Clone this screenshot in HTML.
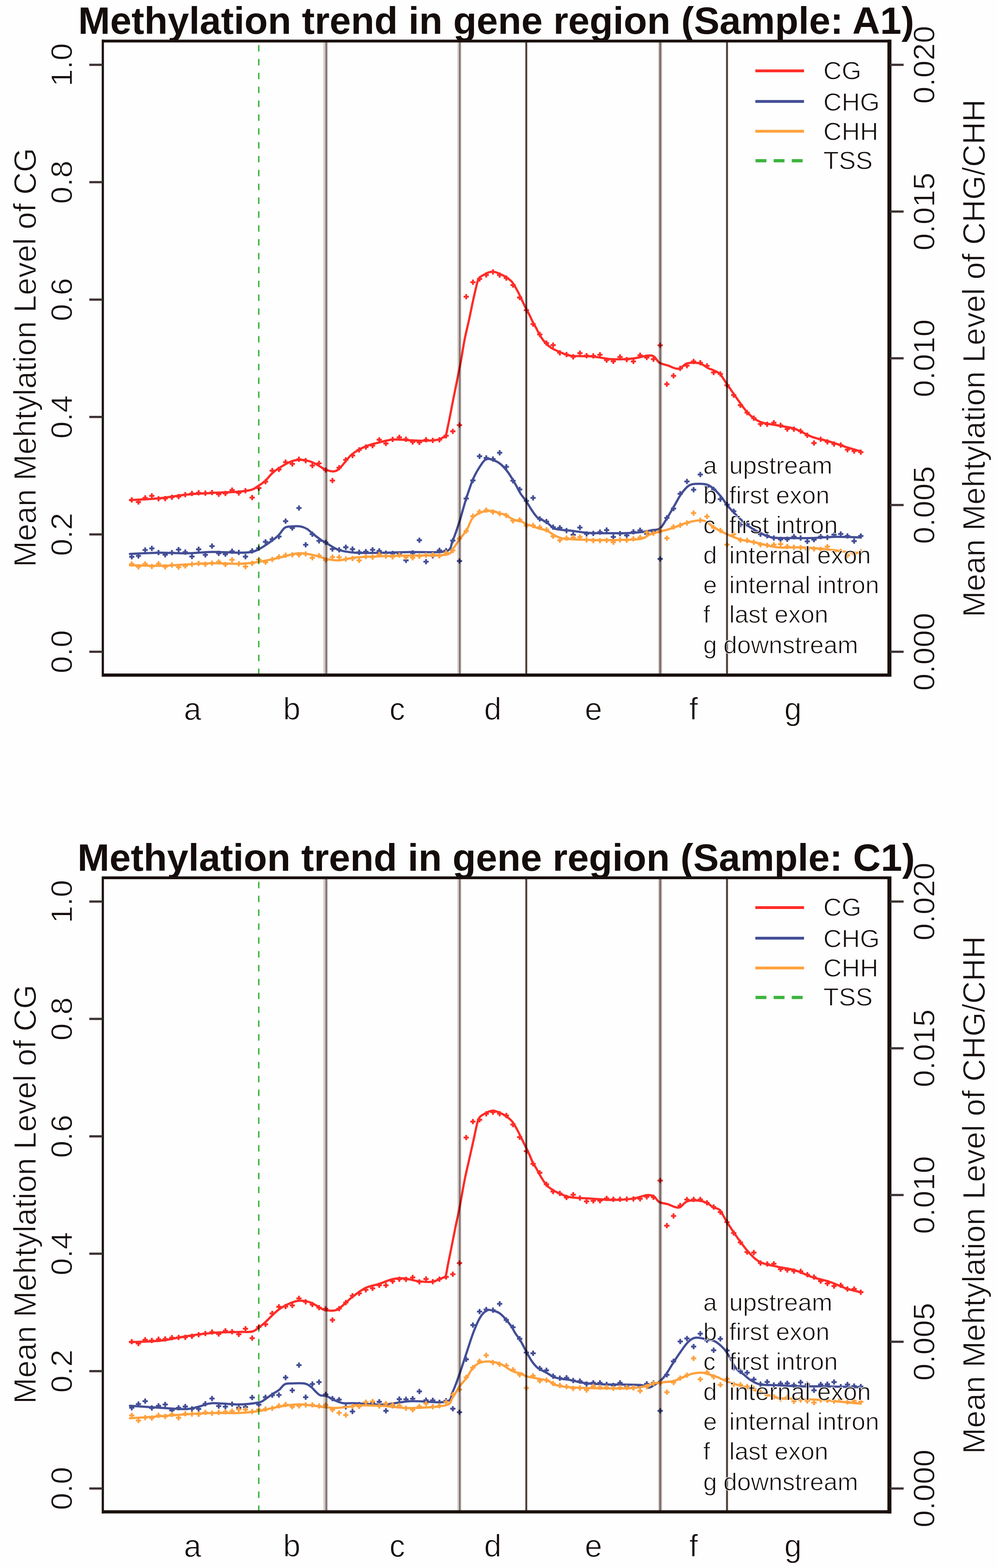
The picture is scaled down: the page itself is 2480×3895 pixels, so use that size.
<!DOCTYPE html>
<html><head><meta charset="utf-8"><title>Methylation trend in gene region</title>
<style>html,body{margin:0;padding:0;background:#fefefe;}svg{display:block;}.r{stroke:#fefefe;stroke-width:1.3px;paint-order:fill stroke;}</style>
</head><body>
<svg width="2480" height="3895" viewBox="0 0 2480 3895">
<rect width="2480" height="3895" fill="#fefefe"/>
<text transform="translate(1233,84.0)" font-family="Liberation Sans, sans-serif" font-weight="bold" font-size="95.3" text-anchor="middle" fill="#140d0b">Methylation trend in gene region (Sample: A1)</text>
<line x1="808.5" y1="104.0" x2="808.5" y2="1674.0" stroke="#d6cdcb" stroke-width="10"/>
<line x1="811.0" y1="104.0" x2="811.0" y2="1674.0" stroke="#857876" stroke-width="5"/>
<line x1="1141.5" y1="104.0" x2="1141.5" y2="1674.0" stroke="#d6cdcb" stroke-width="10"/>
<line x1="1142.5" y1="104.0" x2="1142.5" y2="1674.0" stroke="#7d706d" stroke-width="4"/>
<line x1="1307.8" y1="104.0" x2="1307.8" y2="1674.0" stroke="#b9aeab" stroke-width="6"/>
<line x1="1307.8" y1="104.0" x2="1307.8" y2="1674.0" stroke="#3d302c" stroke-width="3.5"/>
<line x1="1640.5" y1="104.0" x2="1640.5" y2="1674.0" stroke="#d6cdcb" stroke-width="10"/>
<line x1="1640.7" y1="104.0" x2="1640.7" y2="1674.0" stroke="#7d706d" stroke-width="5"/>
<line x1="1806.6" y1="104.0" x2="1806.6" y2="1674.0" stroke="#b9aeab" stroke-width="6"/>
<line x1="1806.6" y1="104.0" x2="1806.6" y2="1674.0" stroke="#3d302c" stroke-width="3.5"/>
<line x1="643" y1="112.0" x2="643" y2="1676.0" stroke="#3cb43c" stroke-width="3.6" stroke-dasharray="16 18.42"/>
<g style="mix-blend-mode:multiply">
<path d="M322.8 1242.4 C335.3 1241.6 374.4 1239.8 397.8 1237.5 C421.2 1235.2 441.3 1230.9 463.0 1228.7 C484.7 1226.5 506.2 1225.8 528.0 1224.5 C549.8 1223.2 577.2 1222.6 593.5 1221.2 C609.8 1219.8 617.8 1218.8 626.0 1216.3 C634.2 1213.8 637.0 1210.0 642.5 1206.5 C648.0 1203.0 653.4 1199.9 658.8 1195.0 C664.2 1190.1 669.6 1182.2 675.0 1177.0 C680.4 1171.8 683.2 1169.2 691.4 1164.0 C699.6 1158.8 714.8 1149.6 724.0 1146.0 C733.2 1142.4 738.6 1142.1 746.8 1142.3 C755.0 1142.5 764.3 1143.9 773.0 1147.0 C781.7 1150.1 792.7 1157.5 799.0 1161.0 C805.3 1164.5 804.4 1166.8 811.0 1167.9 C817.6 1169.1 828.3 1174.2 838.6 1167.9 C848.9 1161.6 861.5 1139.8 873.0 1130.0 C884.5 1120.2 896.0 1114.5 907.5 1109.3 C919.0 1104.1 930.5 1101.9 942.0 1099.0 C953.5 1096.1 963.2 1092.9 976.4 1092.0 C989.6 1091.1 1008.0 1093.3 1021.2 1093.8 C1034.4 1094.3 1044.2 1095.1 1055.7 1094.8 C1067.2 1094.5 1082.6 1093.3 1090.0 1092.0 C1097.4 1090.7 1097.1 1088.5 1100.0 1087.0 C1102.9 1085.5 1105.2 1087.8 1107.4 1083.0 C1109.6 1078.2 1111.1 1067.7 1113.2 1058.0 C1115.3 1048.3 1117.7 1036.2 1119.9 1025.0 C1122.1 1013.8 1124.3 1002.2 1126.5 991.0 C1128.7 979.8 1131.0 969.0 1133.2 958.0 C1135.4 947.0 1137.7 935.8 1139.8 925.0 C1141.9 914.2 1143.5 906.8 1146.0 893.0 C1148.5 879.2 1151.6 858.2 1154.8 842.0 C1158.0 825.8 1161.7 812.0 1165.2 796.0 C1168.7 780.0 1172.2 761.7 1175.7 746.0 C1179.2 730.3 1183.4 711.3 1186.0 702.0 C1188.6 692.7 1189.0 693.0 1191.3 690.0 C1193.6 687.0 1196.4 686.2 1200.0 684.0 C1203.6 681.8 1208.7 678.5 1213.0 677.0 C1217.3 675.5 1221.7 674.7 1226.0 675.0 C1230.3 675.3 1234.2 677.0 1239.0 679.0 C1243.8 681.0 1249.5 683.5 1255.0 687.0 C1260.5 690.5 1267.0 694.3 1272.0 700.0 C1277.0 705.7 1281.3 714.5 1285.0 721.0 C1288.7 727.5 1290.8 732.3 1294.0 739.0 C1297.2 745.7 1300.9 754.0 1304.4 761.0 C1307.9 768.0 1311.7 774.5 1315.0 781.0 C1318.3 787.5 1321.0 794.2 1324.0 800.0 C1327.0 805.8 1329.8 810.0 1333.0 816.0 C1336.2 822.0 1339.6 829.8 1343.5 836.0 C1347.4 842.2 1352.2 848.3 1356.6 853.0 C1360.9 857.7 1364.2 860.6 1369.6 864.0 C1375.0 867.4 1381.0 870.2 1389.0 873.5 C1397.0 876.8 1404.4 881.6 1417.8 883.6 C1431.2 885.6 1452.3 883.9 1469.5 885.3 C1486.7 886.7 1504.0 891.3 1521.2 892.2 C1538.4 893.1 1558.5 891.9 1572.9 890.5 C1587.3 889.1 1598.8 884.5 1607.4 883.6 C1616.0 882.7 1619.4 882.4 1624.6 885.3 C1629.8 888.2 1632.7 897.1 1638.4 900.8 C1644.1 904.5 1651.0 905.1 1659.0 907.7 C1667.0 910.3 1678.5 917.1 1686.6 916.3 C1694.6 915.4 1698.7 904.9 1707.3 902.6 C1715.9 900.3 1729.5 900.6 1738.3 902.6 C1747.1 904.6 1754.2 911.7 1760.0 914.6 C1765.8 917.5 1768.0 917.4 1772.8 919.8 C1777.6 922.2 1783.2 923.3 1788.7 928.9 C1794.2 934.5 1798.8 943.0 1806.0 953.3 C1813.2 963.6 1822.7 978.1 1831.8 990.6 C1840.9 1003.1 1850.9 1018.4 1860.5 1028.0 C1870.1 1037.6 1877.2 1043.2 1889.2 1048.0 C1901.2 1052.8 1917.9 1053.8 1932.2 1056.7 C1946.5 1059.6 1961.0 1060.5 1975.3 1065.3 C1989.6 1070.1 2003.9 1080.2 2018.3 1085.4 C2032.7 1090.7 2047.1 1092.5 2061.4 1096.8 C2075.8 1101.1 2091.5 1107.1 2104.4 1111.2 C2117.3 1115.3 2133.2 1119.5 2138.9 1121.2" stroke="#ff2b27" stroke-width="5.5" fill="none" stroke-linejoin="round" stroke-linecap="round"/>
<path d="M320.9 1241.8h13M327.4 1235.3v13M337.5 1247.1h13M344.0 1240.6v13M354.2 1236.8h13M360.7 1230.3v13M370.8 1231.7h13M377.3 1225.2v13M387.4 1238.9h13M393.9 1232.4v13M404.0 1238.4h13M410.5 1231.9v13M420.6 1235.3h13M427.1 1228.8v13M437.3 1233.6h13M443.8 1227.1v13M453.9 1228.8h13M460.4 1222.3v13M470.5 1225.7h13M477.0 1219.2v13M487.1 1224.0h13M493.6 1217.5v13M503.8 1225.1h13M510.3 1218.6v13M520.4 1223.4h13M526.9 1216.9v13M537.0 1227.8h13M543.5 1221.3v13M553.6 1225.7h13M560.1 1219.2v13M570.2 1217.4h13M576.7 1210.9v13M586.9 1224.4h13M593.4 1217.9v13M603.5 1219.0h13M610.0 1212.5v13M620.1 1236.0h13M626.6 1229.5v13M636.7 1212.4h13M643.2 1205.9v13M653.3 1196.5h13M659.8 1190.0v13M670.0 1169.1h13M676.5 1162.6v13M686.6 1166.1h13M693.1 1159.6v13M703.2 1148.0h13M709.7 1141.5v13M719.8 1152.4h13M726.3 1145.9v13M736.4 1140.7h13M742.9 1134.2v13M753.1 1144.3h13M759.6 1137.8v13M769.7 1156.5h13M776.2 1150.0v13M786.3 1151.0h13M792.8 1144.5v13M802.9 1167.6h13M809.4 1161.1v13M819.6 1193.7h13M826.1 1187.2v13M836.2 1161.8h13M842.7 1155.3v13M852.8 1142.3h13M859.3 1135.8v13M869.4 1131.4h13M875.9 1124.9v13M886.0 1117.5h13M892.5 1111.0v13M902.7 1110.6h13M909.2 1104.1v13M919.3 1106.9h13M925.8 1100.4v13M935.9 1092.4h13M942.4 1085.9v13M952.5 1101.6h13M959.0 1095.1v13M969.1 1091.6h13M975.6 1085.1v13M985.8 1086.4h13M992.3 1079.9v13M1002.4 1091.1h13M1008.9 1084.6v13M1019.0 1097.9h13M1025.5 1091.4v13M1035.6 1098.9h13M1042.1 1092.4v13M1052.2 1092.2h13M1058.7 1085.7v13M1068.9 1094.1h13M1075.4 1087.6v13M1085.5 1092.4h13M1092.0 1085.9v13M1102.1 1082.4h13M1108.6 1075.9v13M1118.7 1071.4h13M1125.2 1064.9v13M1135.3 1056.0h13M1141.8 1049.5v13M1152.0 737.0h13M1158.5 730.5v13M1168.6 701.0h13M1175.1 694.5v13M1185.2 692.9h13M1191.7 686.4v13M1201.8 682.9h13M1208.3 676.4v13M1218.5 675.4h13M1225.0 668.9v13M1235.1 683.2h13M1241.6 676.7v13M1251.7 690.8h13M1258.2 684.3v13M1268.3 708.1h13M1274.8 701.6v13M1284.9 739.1h13M1291.4 732.6v13M1301.6 770.5h13M1308.1 764.0v13M1318.2 805.0h13M1324.7 798.5v13M1334.8 830.7h13M1341.3 824.2v13M1351.4 852.3h13M1357.9 845.8v13M1368.0 857.3h13M1374.5 850.8v13M1384.7 876.4h13M1391.2 869.9v13M1401.3 880.7h13M1407.8 874.2v13M1417.9 886.5h13M1424.4 880.0v13M1434.5 877.2h13M1441.0 870.7v13M1451.1 883.4h13M1457.6 876.9v13M1467.8 884.1h13M1474.3 877.6v13M1484.4 881.3h13M1490.9 874.8v13M1501.0 894.5h13M1507.5 888.0v13M1517.6 897.5h13M1524.1 891.0v13M1534.3 886.8h13M1540.8 880.3v13M1550.9 893.3h13M1557.4 886.8v13M1567.5 897.8h13M1574.0 891.3v13M1584.1 882.5h13M1590.6 876.0v13M1600.7 888.1h13M1607.2 881.6v13M1617.4 892.2h13M1623.9 885.7v13M1634.0 857.8h13M1640.5 851.3v13M1650.6 954.3h13M1657.1 947.8v13M1667.2 933.6h13M1673.7 927.1v13M1683.8 915.1h13M1690.3 908.6v13M1700.5 908.2h13M1707.0 901.7v13M1717.1 897.9h13M1723.6 891.4v13M1733.7 901.1h13M1740.2 894.6v13M1750.3 908.8h13M1756.8 902.3v13M1766.9 925.2h13M1773.4 918.7v13M1783.6 929.0h13M1790.1 922.5v13M1800.2 957.1h13M1806.7 950.6v13M1816.8 981.4h13M1823.3 974.9v13M1833.4 1006.4h13M1839.9 999.9v13M1850.1 1025.0h13M1856.6 1018.5v13M1866.7 1038.7h13M1873.2 1032.2v13M1883.3 1053.3h13M1889.8 1046.8v13M1899.9 1053.9h13M1906.4 1047.4v13M1916.5 1050.1h13M1923.0 1043.6v13M1933.2 1056.5h13M1939.7 1050.0v13M1949.8 1065.7h13M1956.3 1059.2v13M1966.4 1065.9h13M1972.9 1059.4v13M1983.0 1071.0h13M1989.5 1064.5v13M1999.6 1081.2h13M2006.1 1074.7v13M2016.3 1100.6h13M2022.8 1094.1v13M2032.9 1091.2h13M2039.4 1084.7v13M2049.5 1097.8h13M2056.0 1091.3v13M2066.1 1102.9h13M2072.6 1096.4v13M2082.7 1105.5h13M2089.2 1099.0v13M2099.4 1117.0h13M2105.9 1110.5v13M2116.0 1120.4h13M2122.5 1113.9v13M2132.6 1123.3h13M2139.1 1116.8v13" stroke="#ff2b27" stroke-width="4.6" fill="none"/>
<path d="M322.8 1376.0 C335.3 1375.5 374.4 1373.2 397.8 1373.0 C421.2 1372.8 441.3 1374.8 463.0 1374.5 C484.7 1374.2 506.2 1371.2 528.0 1371.0 C549.8 1370.8 577.2 1373.0 593.5 1373.0 C609.8 1373.0 617.8 1372.4 626.0 1371.0 C634.2 1369.6 637.0 1367.4 642.5 1364.7 C648.0 1362.0 653.4 1358.5 658.8 1355.0 C664.2 1351.5 669.6 1347.6 675.0 1343.5 C680.4 1339.4 685.9 1335.9 691.4 1330.5 C696.9 1325.1 702.3 1314.8 707.7 1311.0 C713.1 1307.2 717.5 1308.2 724.0 1307.7 C730.5 1307.2 740.3 1306.7 746.8 1307.7 C753.3 1308.8 757.5 1310.6 763.0 1314.0 C768.5 1317.4 774.0 1323.3 780.0 1328.0 C786.0 1332.7 793.8 1338.5 799.0 1342.0 C804.2 1345.5 803.8 1345.0 811.0 1349.0 C818.2 1353.0 829.9 1362.0 842.0 1366.0 C854.1 1370.0 865.0 1371.8 883.4 1373.0 C901.8 1374.2 929.3 1373.3 952.3 1373.0 C975.3 1372.7 995.4 1371.8 1021.2 1371.2 C1047.1 1370.6 1090.2 1374.1 1107.4 1369.5 C1124.6 1364.9 1118.9 1355.9 1124.6 1343.6 C1130.3 1331.2 1136.1 1313.2 1141.8 1295.4 C1147.5 1277.6 1153.2 1254.6 1159.0 1236.8 C1164.8 1219.0 1170.5 1201.8 1176.3 1188.6 C1182.0 1175.4 1188.2 1165.6 1193.5 1157.6 C1198.8 1149.6 1202.6 1143.0 1208.0 1140.5 C1213.4 1138.0 1219.7 1140.8 1225.7 1142.9 C1231.7 1145.0 1237.9 1148.0 1244.0 1153.0 C1250.1 1158.0 1256.1 1164.8 1262.2 1173.0 C1268.3 1181.2 1275.2 1193.4 1280.5 1202.3 C1285.8 1211.2 1289.2 1219.3 1293.7 1226.4 C1298.2 1233.5 1302.9 1238.0 1307.4 1244.7 C1312.0 1251.4 1316.4 1259.9 1321.0 1266.6 C1325.6 1273.3 1330.2 1280.6 1334.8 1284.9 C1339.4 1289.2 1343.9 1289.6 1348.5 1292.2 C1353.1 1294.8 1357.6 1297.1 1362.2 1300.4 C1366.8 1303.8 1370.6 1309.7 1375.9 1312.3 C1381.2 1314.9 1387.4 1315.0 1394.2 1316.0 C1401.0 1317.0 1406.0 1316.8 1417.0 1318.0 C1428.0 1319.2 1442.7 1322.4 1460.0 1323.5 C1477.3 1324.6 1503.7 1324.4 1521.0 1324.5 C1538.3 1324.6 1550.8 1324.6 1564.0 1324.0 C1577.2 1323.4 1590.7 1322.2 1600.0 1321.0 C1609.3 1319.8 1613.3 1318.4 1620.0 1317.0 C1626.7 1315.6 1633.9 1317.3 1640.0 1312.6 C1646.1 1307.9 1650.7 1297.9 1656.5 1288.8 C1662.3 1279.7 1668.7 1268.1 1674.8 1257.8 C1680.9 1247.5 1686.9 1235.2 1693.0 1226.7 C1699.1 1218.2 1705.2 1210.7 1711.3 1206.6 C1717.4 1202.5 1722.0 1202.5 1729.6 1202.0 C1737.2 1201.5 1749.4 1201.6 1757.0 1203.9 C1764.6 1206.2 1769.2 1210.5 1775.3 1215.8 C1781.4 1221.1 1788.3 1229.4 1793.5 1235.8 C1798.7 1242.2 1801.7 1248.2 1806.3 1254.0 C1810.9 1259.8 1815.5 1264.7 1821.0 1270.5 C1826.5 1276.3 1833.1 1283.0 1839.2 1288.8 C1845.3 1294.6 1849.8 1299.8 1857.4 1305.3 C1865.0 1310.8 1874.7 1316.8 1884.8 1321.7 C1894.9 1326.7 1905.2 1332.5 1917.9 1335.0 C1930.6 1337.5 1944.3 1336.2 1961.0 1336.5 C1977.7 1336.8 1999.2 1337.0 2018.3 1336.5 C2037.4 1336.0 2055.6 1333.8 2075.7 1333.6 C2095.8 1333.3 2128.4 1334.8 2138.9 1335.0" stroke="#434e96" stroke-width="5.5" fill="none" stroke-linejoin="round" stroke-linecap="round"/>
<path d="M320.9 1383.1h13M327.4 1376.6v13M337.5 1381.0h13M344.0 1374.5v13M354.2 1366.3h13M360.7 1359.8v13M370.8 1362.2h13M377.3 1355.7v13M387.4 1372.5h13M393.9 1366.0v13M404.0 1377.9h13M410.5 1371.4v13M420.6 1372.8h13M427.1 1366.3v13M437.3 1365.3h13M443.8 1358.8v13M453.9 1371.5h13M460.4 1365.0v13M470.5 1382.4h13M477.0 1375.9v13M487.1 1364.6h13M493.6 1358.1v13M503.8 1378.2h13M510.3 1371.7v13M520.4 1356.6h13M526.9 1350.1v13M537.0 1374.4h13M543.5 1367.9v13M553.6 1376.6h13M560.1 1370.1v13M570.2 1369.2h13M576.7 1362.7v13M586.9 1372.3h13M593.4 1365.8v13M603.5 1382.8h13M610.0 1376.3v13M620.1 1368.5h13M626.6 1362.0v13M636.7 1361.8h13M643.2 1355.3v13M653.3 1345.9h13M659.8 1339.4v13M670.0 1339.5h13M676.5 1333.0v13M686.6 1332.9h13M693.1 1326.4v13M703.2 1294.6h13M709.7 1288.1v13M719.8 1311.6h13M726.3 1305.1v13M736.4 1262.0h13M742.9 1255.5v13M753.1 1353.3h13M759.6 1346.8v13M769.7 1326.9h13M776.2 1320.4v13M786.3 1343.5h13M792.8 1337.0v13M802.9 1347.2h13M809.4 1340.7v13M819.6 1363.7h13M826.1 1357.2v13M836.2 1365.7h13M842.7 1359.2v13M852.8 1359.4h13M859.3 1352.9v13M869.4 1364.1h13M875.9 1357.6v13M886.0 1371.9h13M892.5 1365.4v13M902.7 1370.3h13M909.2 1363.8v13M919.3 1365.8h13M925.8 1359.3v13M935.9 1368.5h13M942.4 1362.0v13M952.5 1373.9h13M959.0 1367.4v13M969.1 1374.8h13M975.6 1368.3v13M985.8 1377.0h13M992.3 1370.5v13M1002.4 1391.9h13M1008.9 1385.4v13M1019.0 1373.4h13M1025.5 1366.9v13M1035.6 1341.9h13M1042.1 1335.4v13M1052.2 1395.3h13M1058.7 1388.8v13M1068.9 1380.7h13M1075.4 1374.2v13M1085.5 1367.0h13M1092.0 1360.5v13M1102.1 1367.7h13M1108.6 1361.2v13M1118.7 1342.9h13M1125.2 1336.4v13M1135.3 1393.6h13M1141.8 1387.1v13M1152.0 1238.3h13M1158.5 1231.8v13M1168.6 1193.4h13M1175.1 1186.9v13M1185.2 1133.4h13M1191.7 1126.9v13M1201.8 1137.6h13M1208.3 1131.1v13M1218.5 1140.2h13M1225.0 1133.7v13M1235.1 1124.8h13M1241.6 1118.3v13M1251.7 1159.5h13M1258.2 1153.0v13M1268.3 1194.3h13M1274.8 1187.8v13M1284.9 1215.8h13M1291.4 1209.3v13M1301.6 1244.3h13M1308.1 1237.8v13M1318.2 1236.8h13M1324.7 1230.3v13M1334.8 1289.0h13M1341.3 1282.5v13M1351.4 1295.6h13M1357.9 1289.1v13M1368.0 1309.6h13M1374.5 1303.1v13M1384.7 1311.0h13M1391.2 1304.5v13M1401.3 1317.9h13M1407.8 1311.4v13M1417.9 1328.4h13M1424.4 1321.9v13M1434.5 1310.5h13M1441.0 1304.0v13M1451.1 1326.2h13M1457.6 1319.7v13M1467.8 1325.1h13M1474.3 1318.6v13M1484.4 1321.8h13M1490.9 1315.3v13M1501.0 1316.8h13M1507.5 1310.3v13M1517.6 1333.8h13M1524.1 1327.3v13M1534.3 1325.4h13M1540.8 1318.9v13M1550.9 1330.0h13M1557.4 1323.5v13M1567.5 1321.0h13M1574.0 1314.5v13M1584.1 1317.3h13M1590.6 1310.8v13M1600.7 1325.9h13M1607.2 1319.4v13M1617.4 1320.5h13M1623.9 1314.0v13M1634.0 1388.4h13M1640.5 1381.9v13M1650.6 1286.5h13M1657.1 1280.0v13M1667.2 1263.3h13M1673.7 1256.8v13M1683.8 1226.6h13M1690.3 1220.1v13M1700.5 1196.0h13M1707.0 1189.5v13M1717.1 1216.5h13M1723.6 1210.0v13M1733.7 1178.8h13M1740.2 1172.3v13M1750.3 1209.0h13M1756.8 1202.5v13M1766.9 1215.7h13M1773.4 1209.2v13M1783.6 1240.0h13M1790.1 1233.5v13M1800.2 1253.6h13M1806.7 1247.1v13M1816.8 1270.0h13M1823.3 1263.5v13M1833.4 1303.2h13M1839.9 1296.7v13M1850.1 1301.7h13M1856.6 1295.2v13M1866.7 1318.3h13M1873.2 1311.8v13M1883.3 1327.0h13M1889.8 1320.5v13M1899.9 1331.1h13M1906.4 1324.6v13M1916.5 1336.5h13M1923.0 1330.0v13M1933.2 1339.9h13M1939.7 1333.4v13M1949.8 1339.6h13M1956.3 1333.1v13M1966.4 1333.1h13M1972.9 1326.6v13M1983.0 1336.6h13M1989.5 1330.1v13M1999.6 1344.7h13M2006.1 1338.2v13M2016.3 1340.6h13M2022.8 1334.1v13M2032.9 1333.0h13M2039.4 1326.5v13M2049.5 1335.0h13M2056.0 1328.5v13M2066.1 1328.0h13M2072.6 1321.5v13M2082.7 1326.4h13M2089.2 1319.9v13M2099.4 1331.2h13M2105.9 1324.7v13M2116.0 1344.1h13M2122.5 1337.6v13M2132.6 1331.4h13M2139.1 1324.9v13" stroke="#434e96" stroke-width="4.6" fill="none"/>
<path d="M322.8 1403.9 C335.3 1404.2 374.4 1405.8 397.8 1405.5 C421.2 1405.2 441.3 1403.3 463.0 1402.2 C484.7 1401.1 506.2 1399.3 528.0 1399.0 C549.8 1398.7 574.4 1401.1 593.5 1400.6 C612.6 1400.0 626.2 1398.1 642.5 1395.7 C658.8 1393.3 675.1 1389.5 691.4 1386.0 C707.6 1382.5 726.4 1375.9 740.0 1374.5 C753.6 1373.1 763.2 1376.2 773.0 1377.8 C782.8 1379.4 792.7 1382.5 799.0 1384.3 C805.3 1386.1 803.8 1387.1 811.0 1388.4 C818.2 1389.7 829.9 1392.5 842.0 1391.9 C854.1 1391.3 865.0 1386.7 883.4 1385.0 C901.8 1383.3 929.3 1382.5 952.3 1381.6 C975.3 1380.7 995.4 1380.4 1021.2 1379.8 C1047.1 1379.2 1090.2 1380.6 1107.4 1378.0 C1124.6 1375.4 1118.9 1370.6 1124.6 1364.3 C1130.3 1358.0 1135.9 1348.3 1141.8 1340.2 C1147.7 1332.1 1154.7 1324.6 1160.0 1315.8 C1165.3 1307.0 1169.1 1294.0 1173.7 1287.5 C1178.3 1281.0 1182.9 1279.2 1187.4 1276.5 C1192.0 1273.8 1196.4 1272.2 1201.0 1271.0 C1205.6 1269.8 1210.2 1269.4 1214.8 1269.2 C1219.4 1269.0 1223.9 1269.0 1228.5 1270.1 C1233.1 1271.2 1237.6 1274.2 1242.2 1275.6 C1246.8 1277.0 1251.3 1276.4 1255.9 1278.4 C1260.5 1280.4 1265.0 1285.1 1269.6 1287.5 C1274.2 1289.9 1278.7 1291.6 1283.3 1293.0 C1287.9 1294.4 1293.0 1294.5 1297.0 1296.0 C1301.0 1297.5 1303.4 1300.5 1307.4 1302.2 C1311.4 1303.9 1316.4 1304.5 1321.0 1306.0 C1325.6 1307.5 1330.2 1309.9 1334.8 1311.4 C1339.4 1312.9 1343.9 1313.6 1348.5 1315.0 C1353.1 1316.4 1357.6 1317.3 1362.2 1319.6 C1366.8 1321.9 1371.3 1326.1 1375.9 1328.7 C1380.5 1331.3 1384.2 1333.3 1389.6 1335.0 C1394.9 1336.7 1396.3 1337.8 1408.0 1338.8 C1419.7 1339.8 1441.3 1340.5 1460.0 1341.0 C1478.7 1341.5 1498.3 1341.8 1520.0 1341.5 C1541.7 1341.2 1574.7 1341.1 1590.0 1339.0 C1605.3 1336.9 1606.2 1331.5 1612.0 1329.0 C1617.8 1326.5 1620.3 1325.4 1625.0 1324.0 C1629.7 1322.6 1631.7 1323.0 1640.0 1320.8 C1648.3 1318.6 1664.4 1314.2 1674.8 1310.7 C1685.2 1307.2 1693.1 1302.7 1702.2 1299.8 C1711.3 1296.9 1721.4 1294.3 1729.6 1293.4 C1737.8 1292.5 1743.9 1291.4 1751.5 1294.3 C1759.1 1297.2 1766.8 1305.5 1775.3 1310.7 C1783.8 1315.9 1791.9 1320.4 1802.6 1325.3 C1813.2 1330.2 1827.0 1336.3 1839.2 1340.0 C1851.4 1343.7 1860.2 1344.0 1875.7 1347.3 C1891.2 1350.5 1913.2 1357.5 1932.2 1359.5 C1951.2 1361.5 1970.5 1358.8 1989.6 1359.5 C2008.7 1360.2 2027.9 1361.9 2047.0 1363.8 C2066.1 1365.7 2089.1 1369.3 2104.4 1371.0 C2119.7 1372.7 2133.2 1373.3 2138.9 1373.8" stroke="#ffa23e" stroke-width="5.5" fill="none" stroke-linejoin="round" stroke-linecap="round"/>
<path d="M320.9 1401.0h13M327.4 1394.5v13M337.5 1407.9h13M344.0 1401.4v13M354.2 1400.9h13M360.7 1394.4v13M370.8 1407.2h13M377.3 1400.7v13M387.4 1400.5h13M393.9 1394.0v13M404.0 1408.0h13M410.5 1401.5v13M420.6 1403.7h13M427.1 1397.2v13M437.3 1408.8h13M443.8 1402.3v13M453.9 1405.7h13M460.4 1399.2v13M470.5 1401.7h13M477.0 1395.2v13M487.1 1399.6h13M493.6 1393.1v13M503.8 1401.8h13M510.3 1395.3v13M520.4 1398.9h13M526.9 1392.4v13M537.0 1395.9h13M543.5 1389.4v13M553.6 1402.2h13M560.1 1395.7v13M570.2 1390.5h13M576.7 1384.0v13M586.9 1400.4h13M593.4 1393.9v13M603.5 1407.4h13M610.0 1400.9v13M620.1 1399.4h13M626.6 1392.9v13M636.7 1390.0h13M643.2 1383.5v13M653.3 1396.6h13M659.8 1390.1v13M670.0 1389.7h13M676.5 1383.2v13M686.6 1383.3h13M693.1 1376.8v13M703.2 1379.3h13M709.7 1372.8v13M719.8 1378.3h13M726.3 1371.8v13M736.4 1378.2h13M742.9 1371.7v13M753.1 1376.1h13M759.6 1369.6v13M769.7 1385.6h13M776.2 1379.1v13M786.3 1380.3h13M792.8 1373.8v13M802.9 1391.3h13M809.4 1384.8v13M819.6 1384.0h13M826.1 1377.5v13M836.2 1384.2h13M842.7 1377.7v13M852.8 1388.7h13M859.3 1382.2v13M869.4 1387.4h13M875.9 1380.9v13M886.0 1392.0h13M892.5 1385.5v13M902.7 1382.5h13M909.2 1376.0v13M919.3 1384.1h13M925.8 1377.6v13M935.9 1377.4h13M942.4 1370.9v13M952.5 1381.6h13M959.0 1375.1v13M969.1 1383.3h13M975.6 1376.8v13M985.8 1379.1h13M992.3 1372.6v13M1002.4 1384.3h13M1008.9 1377.8v13M1019.0 1385.4h13M1025.5 1378.9v13M1035.6 1381.9h13M1042.1 1375.4v13M1052.2 1378.9h13M1058.7 1372.4v13M1068.9 1378.0h13M1075.4 1371.5v13M1085.5 1380.9h13M1092.0 1374.4v13M1102.1 1373.1h13M1108.6 1366.6v13M1118.7 1367.4h13M1125.2 1360.9v13M1135.3 1337.9h13M1141.8 1331.4v13M1152.0 1319.1h13M1158.5 1312.6v13M1168.6 1282.2h13M1175.1 1275.7v13M1185.2 1271.2h13M1191.7 1264.7v13M1201.8 1267.0h13M1208.3 1260.5v13M1218.5 1272.1h13M1225.0 1265.6v13M1235.1 1275.7h13M1241.6 1269.2v13M1251.7 1280.4h13M1258.2 1273.9v13M1268.3 1293.7h13M1274.8 1287.2v13M1284.9 1291.4h13M1291.4 1284.9v13M1301.6 1306.0h13M1308.1 1299.5v13M1318.2 1305.3h13M1324.7 1298.8v13M1334.8 1309.7h13M1341.3 1303.2v13M1351.4 1316.1h13M1357.9 1309.6v13M1368.0 1332.1h13M1374.5 1325.6v13M1384.7 1342.0h13M1391.2 1335.5v13M1401.3 1336.7h13M1407.8 1330.2v13M1417.9 1335.4h13M1424.4 1328.9v13M1434.5 1334.1h13M1441.0 1327.6v13M1451.1 1341.2h13M1457.6 1334.7v13M1467.8 1342.9h13M1474.3 1336.4v13M1484.4 1343.0h13M1490.9 1336.5v13M1501.0 1342.5h13M1507.5 1336.0v13M1517.6 1346.9h13M1524.1 1340.4v13M1534.3 1341.1h13M1540.8 1334.6v13M1550.9 1341.9h13M1557.4 1335.4v13M1567.5 1338.6h13M1574.0 1332.1v13M1584.1 1335.0h13M1590.6 1328.5v13M1600.7 1322.4h13M1607.2 1315.9v13M1617.4 1324.7h13M1623.9 1318.2v13M1634.0 1318.4h13M1640.5 1311.9v13M1650.6 1337.0h13M1657.1 1330.5v13M1667.2 1308.7h13M1673.7 1302.2v13M1683.8 1304.8h13M1690.3 1298.3v13M1700.5 1299.2h13M1707.0 1292.7v13M1717.1 1274.5h13M1723.6 1268.0v13M1733.7 1292.4h13M1740.2 1285.9v13M1750.3 1283.0h13M1756.8 1276.5v13M1766.9 1310.8h13M1773.4 1304.3v13M1783.6 1317.7h13M1790.1 1311.2v13M1800.2 1353.0h13M1806.7 1346.5v13M1816.8 1327.3h13M1823.3 1320.8v13M1833.4 1341.6h13M1839.9 1335.1v13M1850.1 1342.4h13M1856.6 1335.9v13M1866.7 1347.1h13M1873.2 1340.6v13M1883.3 1353.0h13M1889.8 1346.5v13M1899.9 1354.4h13M1906.4 1347.9v13M1916.5 1353.0h13M1923.0 1346.5v13M1933.2 1351.6h13M1939.7 1345.1v13M1949.8 1357.6h13M1956.3 1351.1v13M1966.4 1359.5h13M1972.9 1353.0v13M1983.0 1360.4h13M1989.5 1353.9v13M1999.6 1364.8h13M2006.1 1358.3v13M2016.3 1363.5h13M2022.8 1357.0v13M2032.9 1364.5h13M2039.4 1358.0v13M2049.5 1357.9h13M2056.0 1351.4v13M2066.1 1370.1h13M2072.6 1363.6v13M2082.7 1369.7h13M2089.2 1363.2v13M2099.4 1379.4h13M2105.9 1372.9v13M2116.0 1375.5h13M2122.5 1369.0v13M2132.6 1370.8h13M2139.1 1364.3v13" stroke="#ffa23e" stroke-width="4.6" fill="none"/>
</g>
<line x1="255.5" y1="98.5" x2="255.5" y2="1681.0" stroke="#1a110e" stroke-width="5.5"/>
<line x1="253" y1="102.0" x2="2214.5" y2="102.0" stroke="#1a110e" stroke-width="7"/>
<line x1="2210.2" y1="98.5" x2="2210.2" y2="1681.0" stroke="#1a110e" stroke-width="10"/>
<line x1="253" y1="1677.0" x2="2214.5" y2="1677.0" stroke="#1a110e" stroke-width="8"/>
<line x1="222" y1="1619.0" x2="255" y2="1619.0" stroke="#3d3330" stroke-width="5.5"/>
<text transform="translate(178.5,1619.0) rotate(-90) scale(1,0.95)" class="r" font-family="Liberation Sans, sans-serif" font-size="77.5" text-anchor="middle" fill="#140d0b">0.0</text>
<line x1="222" y1="1327.4" x2="255" y2="1327.4" stroke="#3d3330" stroke-width="5.5"/>
<text transform="translate(178.5,1327.4) rotate(-90) scale(1,0.95)" class="r" font-family="Liberation Sans, sans-serif" font-size="77.5" text-anchor="middle" fill="#140d0b">0.2</text>
<line x1="222" y1="1035.8" x2="255" y2="1035.8" stroke="#3d3330" stroke-width="5.5"/>
<text transform="translate(178.5,1035.8) rotate(-90) scale(1,0.95)" class="r" font-family="Liberation Sans, sans-serif" font-size="77.5" text-anchor="middle" fill="#140d0b">0.4</text>
<line x1="222" y1="744.2" x2="255" y2="744.2" stroke="#3d3330" stroke-width="5.5"/>
<text transform="translate(178.5,744.2) rotate(-90) scale(1,0.95)" class="r" font-family="Liberation Sans, sans-serif" font-size="77.5" text-anchor="middle" fill="#140d0b">0.6</text>
<line x1="222" y1="452.6" x2="255" y2="452.6" stroke="#3d3330" stroke-width="5.5"/>
<text transform="translate(178.5,452.6) rotate(-90) scale(1,0.95)" class="r" font-family="Liberation Sans, sans-serif" font-size="77.5" text-anchor="middle" fill="#140d0b">0.8</text>
<line x1="222" y1="161.0" x2="255" y2="161.0" stroke="#3d3330" stroke-width="5.5"/>
<text transform="translate(178.5,161.0) rotate(-90) scale(1,0.95)" class="r" font-family="Liberation Sans, sans-serif" font-size="77.5" text-anchor="middle" fill="#140d0b">1.0</text>
<line x1="2212" y1="1619.0" x2="2245.5" y2="1619.0" stroke="#3d3330" stroke-width="5.5"/>
<text transform="translate(2321.5,1619.0) rotate(-90) scale(1,0.95)" class="r" font-family="Liberation Sans, sans-serif" font-size="77.5" text-anchor="middle" fill="#140d0b">0.000</text>
<line x1="2212" y1="1254.5" x2="2245.5" y2="1254.5" stroke="#3d3330" stroke-width="5.5"/>
<text transform="translate(2321.5,1254.5) rotate(-90) scale(1,0.95)" class="r" font-family="Liberation Sans, sans-serif" font-size="77.5" text-anchor="middle" fill="#140d0b">0.005</text>
<line x1="2212" y1="890.0" x2="2245.5" y2="890.0" stroke="#3d3330" stroke-width="5.5"/>
<text transform="translate(2321.5,890.0) rotate(-90) scale(1,0.95)" class="r" font-family="Liberation Sans, sans-serif" font-size="77.5" text-anchor="middle" fill="#140d0b">0.010</text>
<line x1="2212" y1="525.5" x2="2245.5" y2="525.5" stroke="#3d3330" stroke-width="5.5"/>
<text transform="translate(2321.5,525.5) rotate(-90) scale(1,0.95)" class="r" font-family="Liberation Sans, sans-serif" font-size="77.5" text-anchor="middle" fill="#140d0b">0.015</text>
<line x1="2212" y1="161.0" x2="2245.5" y2="161.0" stroke="#3d3330" stroke-width="5.5"/>
<text transform="translate(2321.5,161.0) rotate(-90) scale(1,0.95)" class="r" font-family="Liberation Sans, sans-serif" font-size="77.5" text-anchor="middle" fill="#140d0b">0.020</text>
<text transform="translate(88.8,888.0) rotate(-90)" class="r" font-family="Liberation Sans, sans-serif" font-size="77.4" text-anchor="middle" fill="#140d0b">Mean Mehtylation Level of CG</text>
<text transform="translate(2447,890.0) rotate(-90)" class="r" font-family="Liberation Sans, sans-serif" font-size="77.4" text-anchor="middle" fill="#140d0b">Mean Mehtylation Level of CHG/CHH</text>
<text x="478.5" y="1788.0" class="r" font-family="Liberation Sans, sans-serif" font-size="77.5" text-anchor="middle" fill="#140d0b">a</text>
<text x="725.0" y="1788.0" class="r" font-family="Liberation Sans, sans-serif" font-size="77.5" text-anchor="middle" fill="#140d0b">b</text>
<text x="987.0" y="1788.0" class="r" font-family="Liberation Sans, sans-serif" font-size="77.5" text-anchor="middle" fill="#140d0b">c</text>
<text x="1224.5" y="1788.0" class="r" font-family="Liberation Sans, sans-serif" font-size="77.5" text-anchor="middle" fill="#140d0b">d</text>
<text x="1474.7" y="1788.0" class="r" font-family="Liberation Sans, sans-serif" font-size="77.5" text-anchor="middle" fill="#140d0b">e</text>
<text x="1723.4" y="1788.0" class="r" font-family="Liberation Sans, sans-serif" font-size="77.5" text-anchor="middle" fill="#140d0b">f</text>
<text x="1970.5" y="1788.0" class="r" font-family="Liberation Sans, sans-serif" font-size="77.5" text-anchor="middle" fill="#140d0b">g</text>
<line x1="1877" y1="176.0" x2="1998" y2="176.0" stroke="#ff2b27" stroke-width="7"/>
<text x="2046" y="196.5" class="r" font-family="Liberation Sans, sans-serif" font-size="63" fill="#140d0b">CG</text>
<line x1="1877" y1="252.0" x2="1998" y2="252.0" stroke="#434e96" stroke-width="7"/>
<text x="2046" y="274.5" class="r" font-family="Liberation Sans, sans-serif" font-size="63" fill="#140d0b">CHG</text>
<line x1="1877" y1="326.0" x2="1998" y2="326.0" stroke="#ffa23e" stroke-width="7"/>
<text x="2046" y="347.8" class="r" font-family="Liberation Sans, sans-serif" font-size="63" fill="#140d0b">CHH</text>
<line x1="1877.5" y1="399.3" x2="1998" y2="399.3" stroke="#3cb43c" stroke-width="8" stroke-dasharray="27 18"/>
<text x="2046" y="419.6" class="r" font-family="Liberation Sans, sans-serif" font-size="63" fill="#140d0b">TSS</text>
<text x="1747.5" y="1177.3" class="r" font-family="Liberation Sans, sans-serif" font-size="61.5" fill="#140d0b">a</text>
<text x="1812.0" y="1177.3" class="r" font-family="Liberation Sans, sans-serif" font-size="61.5" fill="#140d0b">upstream</text>
<text x="1747.5" y="1250.8" class="r" font-family="Liberation Sans, sans-serif" font-size="61.5" fill="#140d0b">b</text>
<text x="1812.0" y="1250.8" class="r" font-family="Liberation Sans, sans-serif" font-size="61.5" fill="#140d0b">first exon</text>
<text x="1747.5" y="1324.8" class="r" font-family="Liberation Sans, sans-serif" font-size="61.5" fill="#140d0b">c</text>
<text x="1812.0" y="1324.8" class="r" font-family="Liberation Sans, sans-serif" font-size="61.5" fill="#140d0b">first intron</text>
<text x="1747.5" y="1399.6" class="r" font-family="Liberation Sans, sans-serif" font-size="61.5" fill="#140d0b">d</text>
<text x="1812.0" y="1399.6" class="r" font-family="Liberation Sans, sans-serif" font-size="61.5" fill="#140d0b">internal exon</text>
<text x="1747.5" y="1473.5" class="r" font-family="Liberation Sans, sans-serif" font-size="61.5" fill="#140d0b">e</text>
<text x="1812.0" y="1473.5" class="r" font-family="Liberation Sans, sans-serif" font-size="61.5" fill="#140d0b">internal intron</text>
<text x="1747.5" y="1547.3" class="r" font-family="Liberation Sans, sans-serif" font-size="61.5" fill="#140d0b">f</text>
<text x="1812.0" y="1547.3" class="r" font-family="Liberation Sans, sans-serif" font-size="61.5" fill="#140d0b">last exon</text>
<text x="1747.5" y="1623.0" class="r" font-family="Liberation Sans, sans-serif" font-size="61.5" fill="#140d0b">g</text>
<text x="1797.5" y="1623.0" class="r" font-family="Liberation Sans, sans-serif" font-size="61.5" fill="#140d0b">downstream</text>
<text transform="translate(1233,2162.5)" font-family="Liberation Sans, sans-serif" font-weight="bold" font-size="95.3" text-anchor="middle" fill="#140d0b">Methylation trend in gene region (Sample: C1)</text>
<line x1="808.5" y1="2182.5" x2="808.5" y2="3752.5" stroke="#d6cdcb" stroke-width="10"/>
<line x1="811.0" y1="2182.5" x2="811.0" y2="3752.5" stroke="#857876" stroke-width="5"/>
<line x1="1141.5" y1="2182.5" x2="1141.5" y2="3752.5" stroke="#d6cdcb" stroke-width="10"/>
<line x1="1142.5" y1="2182.5" x2="1142.5" y2="3752.5" stroke="#7d706d" stroke-width="4"/>
<line x1="1307.8" y1="2182.5" x2="1307.8" y2="3752.5" stroke="#b9aeab" stroke-width="6"/>
<line x1="1307.8" y1="2182.5" x2="1307.8" y2="3752.5" stroke="#3d302c" stroke-width="3.5"/>
<line x1="1640.5" y1="2182.5" x2="1640.5" y2="3752.5" stroke="#d6cdcb" stroke-width="10"/>
<line x1="1640.7" y1="2182.5" x2="1640.7" y2="3752.5" stroke="#7d706d" stroke-width="5"/>
<line x1="1806.6" y1="2182.5" x2="1806.6" y2="3752.5" stroke="#b9aeab" stroke-width="6"/>
<line x1="1806.6" y1="2182.5" x2="1806.6" y2="3752.5" stroke="#3d302c" stroke-width="3.5"/>
<line x1="643" y1="2190.5" x2="643" y2="3754.5" stroke="#3cb43c" stroke-width="3.6" stroke-dasharray="16 18.42"/>
<g style="mix-blend-mode:multiply">
<path d="M322.8 3333.8 C335.3 3333.3 374.4 3333.0 397.8 3330.6 C421.2 3328.2 441.2 3322.5 463.0 3319.2 C484.8 3315.9 506.5 3312.8 528.3 3311.0 C550.0 3309.2 577.2 3309.2 593.5 3308.7 C609.8 3308.2 618.0 3309.6 626.2 3307.8 C634.4 3306.0 637.1 3301.8 642.5 3298.0 C647.9 3294.2 650.6 3292.3 658.8 3285.0 C666.9 3277.7 680.5 3262.2 691.4 3254.0 C702.3 3245.8 714.8 3239.8 724.0 3236.0 C733.2 3232.2 738.6 3231.0 746.8 3231.0 C755.0 3231.0 764.3 3232.7 773.0 3236.0 C781.7 3239.3 792.7 3247.6 799.0 3250.7 C805.3 3253.8 804.4 3254.4 811.0 3254.8 C817.6 3255.2 828.3 3258.2 838.6 3253.0 C848.9 3247.8 861.5 3232.7 873.0 3223.8 C884.5 3214.9 896.0 3205.4 907.5 3199.7 C919.0 3193.9 930.5 3193.0 942.0 3189.3 C953.5 3185.6 966.1 3179.6 976.4 3177.3 C986.7 3175.0 993.7 3174.7 1004.0 3175.5 C1014.3 3176.3 1026.9 3181.0 1038.4 3182.4 C1049.9 3183.8 1062.6 3185.5 1072.9 3184.1 C1083.2 3182.7 1094.2 3176.3 1100.0 3174.0 C1105.8 3171.7 1105.2 3175.5 1107.4 3170.0 C1109.6 3164.5 1111.1 3151.3 1113.2 3141.0 C1115.3 3130.7 1117.7 3119.0 1119.9 3108.0 C1122.1 3097.0 1124.3 3086.1 1126.5 3075.0 C1128.7 3063.9 1131.0 3052.2 1133.2 3041.5 C1135.4 3030.8 1137.7 3021.6 1139.8 3011.0 C1141.9 3000.4 1143.5 2991.5 1146.0 2978.0 C1148.5 2964.5 1151.6 2945.8 1154.8 2930.0 C1158.0 2914.2 1161.7 2899.1 1165.2 2883.5 C1168.7 2867.9 1172.2 2852.2 1175.7 2836.6 C1179.2 2820.9 1183.4 2799.7 1186.0 2789.6 C1188.6 2779.5 1189.0 2779.4 1191.3 2776.0 C1193.6 2772.6 1196.4 2771.3 1200.0 2769.0 C1203.6 2766.7 1208.7 2763.7 1213.0 2762.0 C1217.3 2760.3 1221.7 2758.8 1226.0 2759.0 C1230.3 2759.2 1234.2 2761.0 1239.0 2763.0 C1243.8 2765.0 1249.5 2767.3 1255.0 2771.0 C1260.5 2774.7 1267.0 2779.2 1272.0 2785.0 C1277.0 2790.8 1281.3 2799.5 1285.0 2806.0 C1288.7 2812.5 1290.8 2817.5 1294.0 2824.0 C1297.2 2830.5 1300.9 2837.8 1304.4 2845.0 C1307.9 2852.2 1311.7 2859.8 1315.0 2867.0 C1318.3 2874.2 1321.0 2882.0 1324.0 2888.0 C1327.0 2894.0 1329.8 2897.3 1333.0 2903.0 C1336.2 2908.7 1339.6 2915.5 1343.5 2922.0 C1347.4 2928.5 1352.2 2936.8 1356.6 2942.0 C1360.9 2947.2 1364.2 2949.8 1369.6 2953.5 C1375.0 2957.2 1381.0 2960.6 1389.0 2964.0 C1397.0 2967.4 1404.4 2971.8 1417.8 2974.0 C1431.2 2976.2 1452.3 2976.3 1469.5 2977.4 C1486.7 2978.5 1504.0 2980.8 1521.2 2980.8 C1538.4 2980.8 1558.5 2979.4 1572.9 2977.4 C1587.3 2975.4 1598.8 2969.7 1607.4 2968.8 C1616.0 2967.9 1619.4 2969.3 1624.6 2972.2 C1629.8 2975.1 1632.7 2982.8 1638.4 2986.0 C1644.1 2989.2 1651.0 2988.9 1659.0 2991.2 C1667.0 2993.5 1678.5 3001.0 1686.6 2999.8 C1694.6 2998.7 1698.7 2987.2 1707.3 2984.3 C1715.9 2981.4 1729.5 2981.6 1738.3 2982.6 C1747.1 2983.6 1754.2 2987.4 1760.0 2990.3 C1765.8 2993.2 1768.0 2997.2 1772.8 2999.8 C1777.6 3002.4 1783.2 3000.2 1788.7 3006.0 C1794.2 3011.8 1798.8 3023.6 1806.0 3034.8 C1813.2 3046.1 1822.7 3060.8 1831.8 3073.5 C1840.9 3086.2 1850.9 3100.5 1860.5 3110.8 C1870.1 3121.1 1877.2 3129.2 1889.2 3135.2 C1901.2 3141.2 1917.9 3143.3 1932.2 3146.7 C1946.5 3150.0 1961.0 3151.0 1975.3 3155.3 C1989.6 3159.6 2003.9 3167.7 2018.3 3172.5 C2032.7 3177.3 2047.1 3179.2 2061.4 3184.0 C2075.8 3188.8 2091.5 3196.9 2104.4 3201.2 C2117.3 3205.5 2133.2 3208.4 2138.9 3209.8" stroke="#ff2b27" stroke-width="5.5" fill="none" stroke-linejoin="round" stroke-linecap="round"/>
<path d="M320.9 3332.7h13M327.4 3326.2v13M337.5 3337.5h13M344.0 3331.0v13M354.2 3328.1h13M360.7 3321.6v13M370.8 3329.7h13M377.3 3323.2v13M387.4 3326.8h13M393.9 3320.3v13M404.0 3326.0h13M410.5 3319.5v13M420.6 3322.8h13M427.1 3316.3v13M437.3 3322.3h13M443.8 3315.8v13M453.9 3322.0h13M460.4 3315.5v13M470.5 3319.4h13M477.0 3312.9v13M487.1 3315.5h13M493.6 3309.0v13M503.8 3312.4h13M510.3 3305.9v13M520.4 3308.7h13M526.9 3302.2v13M537.0 3313.8h13M543.5 3307.3v13M553.6 3305.8h13M560.1 3299.3v13M570.2 3307.9h13M576.7 3301.4v13M586.9 3314.5h13M593.4 3308.0v13M603.5 3300.8h13M610.0 3294.3v13M620.1 3324.0h13M626.6 3317.5v13M636.7 3296.3h13M643.2 3289.8v13M653.3 3289.6h13M659.8 3283.1v13M670.0 3262.6h13M676.5 3256.1v13M686.6 3246.1h13M693.1 3239.6v13M703.2 3245.5h13M709.7 3239.0v13M719.8 3242.8h13M726.3 3236.3v13M736.4 3225.3h13M742.9 3218.8v13M753.1 3233.8h13M759.6 3227.3v13M769.7 3240.6h13M776.2 3234.1v13M786.3 3248.2h13M792.8 3241.7v13M802.9 3251.3h13M809.4 3244.8v13M819.6 3278.9h13M826.1 3272.4v13M836.2 3250.8h13M842.7 3244.3v13M852.8 3235.7h13M859.3 3229.2v13M869.4 3218.8h13M875.9 3212.3v13M886.0 3212.8h13M892.5 3206.3v13M902.7 3204.0h13M909.2 3197.5v13M919.3 3200.2h13M925.8 3193.7v13M935.9 3192.7h13M942.4 3186.2v13M952.5 3192.7h13M959.0 3186.2v13M969.1 3182.8h13M975.6 3176.3v13M985.8 3177.8h13M992.3 3171.3v13M1002.4 3178.1h13M1008.9 3171.6v13M1019.0 3173.2h13M1025.5 3166.7v13M1035.6 3184.2h13M1042.1 3177.7v13M1052.2 3177.1h13M1058.7 3170.6v13M1068.9 3183.7h13M1075.4 3177.2v13M1085.5 3177.4h13M1092.0 3170.9v13M1102.1 3171.9h13M1108.6 3165.4v13M1118.7 3165.2h13M1125.2 3158.7v13M1135.3 3137.6h13M1141.8 3131.1v13M1152.0 2825.8h13M1158.5 2819.3v13M1168.6 2786.1h13M1175.1 2779.6v13M1185.2 2781.6h13M1191.7 2775.1v13M1201.8 2766.8h13M1208.3 2760.3v13M1218.5 2762.7h13M1225.0 2756.2v13M1235.1 2766.5h13M1241.6 2760.0v13M1251.7 2771.1h13M1258.2 2764.6v13M1268.3 2793.4h13M1274.8 2786.9v13M1284.9 2824.8h13M1291.4 2818.3v13M1301.6 2859.5h13M1308.1 2853.0v13M1318.2 2891.1h13M1324.7 2884.6v13M1334.8 2913.4h13M1341.3 2906.9v13M1351.4 2941.9h13M1357.9 2935.4v13M1368.0 2959.9h13M1374.5 2953.4v13M1384.7 2964.5h13M1391.2 2958.0v13M1401.3 2974.6h13M1407.8 2968.1v13M1417.9 2967.8h13M1424.4 2961.3v13M1434.5 2976.0h13M1441.0 2969.5v13M1451.1 2984.3h13M1457.6 2977.8v13M1467.8 2983.0h13M1474.3 2976.5v13M1484.4 2982.8h13M1490.9 2976.3v13M1501.0 2976.9h13M1507.5 2970.4v13M1517.6 2978.9h13M1524.1 2972.4v13M1534.3 2979.0h13M1540.8 2972.5v13M1550.9 2978.7h13M1557.4 2972.2v13M1567.5 2978.3h13M1574.0 2971.8v13M1584.1 2977.9h13M1590.6 2971.4v13M1600.7 2972.9h13M1607.2 2966.4v13M1617.4 2974.0h13M1623.9 2967.5v13M1634.0 2932.6h13M1640.5 2926.1v13M1650.6 3044.6h13M1657.1 3038.1v13M1667.2 3020.5h13M1673.7 3014.0v13M1683.8 2994.7h13M1690.3 2988.2v13M1700.5 2979.7h13M1707.0 2973.2v13M1717.1 2979.5h13M1723.6 2973.0v13M1733.7 2979.6h13M1740.2 2973.1v13M1750.3 2987.7h13M1756.8 2981.2v13M1766.9 2998.2h13M1773.4 2991.7v13M1783.6 3011.0h13M1790.1 3004.5v13M1800.2 3035.8h13M1806.7 3029.3v13M1816.8 3062.7h13M1823.3 3056.2v13M1833.4 3086.3h13M1839.9 3079.8v13M1850.1 3110.2h13M1856.6 3103.7v13M1866.7 3111.5h13M1873.2 3105.0v13M1883.3 3137.5h13M1889.8 3131.0v13M1899.9 3139.7h13M1906.4 3133.2v13M1916.5 3139.3h13M1923.0 3132.8v13M1933.2 3152.7h13M1939.7 3146.2v13M1949.8 3154.7h13M1956.3 3148.2v13M1966.4 3157.4h13M1972.9 3150.9v13M1983.0 3158.1h13M1989.5 3151.6v13M1999.6 3166.3h13M2006.1 3159.8v13M2016.3 3172.3h13M2022.8 3165.8v13M2032.9 3182.4h13M2039.4 3175.9v13M2049.5 3188.2h13M2056.0 3181.7v13M2066.1 3194.8h13M2072.6 3188.3v13M2082.7 3192.7h13M2089.2 3186.2v13M2099.4 3202.0h13M2105.9 3195.5v13M2116.0 3201.9h13M2122.5 3195.4v13M2132.6 3209.9h13M2139.1 3203.4v13" stroke="#ff2b27" stroke-width="4.6" fill="none"/>
<path d="M322.8 3492.0 C335.3 3492.8 374.4 3495.5 397.8 3496.9 C421.2 3498.3 446.7 3500.7 463.0 3500.2 C479.3 3499.7 484.8 3496.1 495.7 3493.7 C506.6 3491.2 512.0 3486.3 528.3 3485.5 C544.6 3484.7 574.4 3489.1 593.5 3488.8 C612.6 3488.5 632.1 3485.8 643.0 3483.7 C653.9 3481.5 652.8 3479.5 658.7 3475.9 C664.6 3472.3 672.4 3466.1 678.3 3462.2 C684.2 3458.3 689.1 3456.3 694.0 3452.4 C698.9 3448.5 702.1 3441.3 707.6 3438.7 C713.1 3436.0 719.0 3436.8 727.2 3436.5 C735.4 3436.2 749.1 3435.3 756.6 3436.7 C764.1 3438.0 767.3 3441.0 772.2 3444.6 C777.1 3448.2 782.1 3454.7 786.0 3458.3 C789.9 3461.9 791.5 3464.4 795.7 3466.0 C799.9 3467.6 804.8 3465.7 811.3 3468.0 C817.8 3470.3 827.6 3476.9 834.8 3479.8 C842.0 3482.8 846.3 3484.7 854.4 3485.7 C862.5 3486.7 867.1 3485.1 883.4 3485.7 C899.7 3486.3 929.3 3490.0 952.3 3489.1 C975.3 3488.2 995.4 3481.7 1021.2 3480.5 C1047.1 3479.3 1090.2 3485.9 1107.4 3482.2 C1124.6 3478.5 1118.9 3469.6 1124.6 3458.1 C1130.3 3446.6 1136.1 3429.4 1141.8 3413.3 C1147.5 3397.2 1153.2 3378.8 1159.0 3361.6 C1164.8 3344.4 1170.5 3324.8 1176.3 3309.9 C1182.0 3295.0 1187.8 3281.2 1193.5 3272.0 C1199.2 3262.8 1205.0 3257.4 1210.7 3254.8 C1216.5 3252.2 1222.2 3254.8 1228.0 3256.5 C1233.8 3258.2 1238.3 3259.1 1245.2 3265.1 C1252.1 3271.1 1263.5 3285.0 1269.3 3292.7 C1275.1 3300.3 1275.9 3304.6 1280.0 3311.0 C1284.1 3317.4 1289.1 3323.4 1293.7 3331.0 C1298.3 3338.6 1302.9 3348.4 1307.4 3356.6 C1312.0 3364.8 1316.4 3373.7 1321.0 3380.4 C1325.6 3387.1 1330.2 3392.7 1334.8 3396.8 C1339.4 3400.9 1343.9 3402.4 1348.5 3405.0 C1353.1 3407.6 1357.6 3409.7 1362.2 3412.3 C1366.8 3414.9 1370.6 3418.4 1375.9 3420.5 C1381.2 3422.6 1387.4 3423.8 1394.2 3425.0 C1401.0 3426.2 1407.9 3426.3 1417.0 3428.0 C1426.1 3429.7 1435.5 3433.2 1449.0 3435.0 C1462.5 3436.8 1479.0 3437.9 1498.0 3438.7 C1517.0 3439.4 1546.7 3439.1 1563.0 3439.5 C1579.3 3439.9 1587.8 3439.8 1596.0 3441.0 C1604.2 3442.2 1607.2 3447.0 1612.0 3447.0 C1616.8 3447.0 1620.0 3444.0 1625.0 3441.0 C1630.0 3438.0 1637.0 3433.4 1642.0 3429.0 C1647.0 3424.6 1649.6 3421.7 1654.8 3414.4 C1660.0 3407.1 1666.9 3394.6 1673.0 3385.2 C1679.1 3375.8 1685.2 3366.3 1691.3 3357.8 C1697.4 3349.3 1703.5 3339.8 1709.6 3334.0 C1715.7 3328.2 1720.3 3324.2 1727.9 3323.0 C1735.5 3321.8 1747.7 3325.5 1755.3 3326.7 C1762.9 3327.9 1767.4 3327.7 1773.5 3330.4 C1779.6 3333.2 1786.3 3338.3 1791.8 3343.2 C1797.3 3348.1 1800.3 3350.9 1806.4 3360.0 C1812.5 3369.1 1821.6 3389.2 1828.3 3398.0 C1835.0 3406.8 1840.5 3408.0 1846.6 3413.0 C1852.7 3418.0 1857.9 3423.7 1865.0 3428.0 C1872.1 3432.3 1878.0 3436.8 1889.2 3439.0 C1900.4 3441.2 1915.5 3440.1 1932.2 3440.9 C1948.9 3441.7 1970.5 3443.3 1989.6 3443.8 C2008.7 3444.3 2022.1 3443.4 2047.0 3443.8 C2071.9 3444.2 2123.6 3445.6 2138.9 3446.0" stroke="#434e96" stroke-width="5.5" fill="none" stroke-linejoin="round" stroke-linecap="round"/>
<path d="M320.9 3496.9h13M327.4 3490.4v13M337.5 3487.8h13M344.0 3481.3v13M354.2 3480.6h13M360.7 3474.1v13M370.8 3497.6h13M377.3 3491.1v13M387.4 3492.2h13M393.9 3485.7v13M404.0 3488.8h13M410.5 3482.3v13M420.6 3503.5h13M427.1 3497.0v13M437.3 3497.0h13M443.8 3490.5v13M453.9 3493.9h13M460.4 3487.4v13M470.5 3499.8h13M477.0 3493.3v13M487.1 3499.9h13M493.6 3493.4v13M503.8 3487.0h13M510.3 3480.5v13M520.4 3474.0h13M526.9 3467.5v13M537.0 3492.8h13M543.5 3486.3v13M553.6 3494.3h13M560.1 3487.8v13M570.2 3488.1h13M576.7 3481.6v13M586.9 3496.6h13M593.4 3490.1v13M603.5 3495.1h13M610.0 3488.6v13M620.1 3471.6h13M626.6 3465.1v13M636.7 3489.2h13M643.2 3482.7v13M653.3 3470.9h13M659.8 3464.4v13M670.0 3465.8h13M676.5 3459.3v13M686.6 3465.2h13M693.1 3458.7v13M703.2 3421.9h13M709.7 3415.4v13M719.8 3453.7h13M726.3 3447.2v13M736.4 3391.0h13M742.9 3384.5v13M753.1 3470.8h13M759.6 3464.3v13M769.7 3438.0h13M776.2 3431.5v13M786.3 3433.3h13M792.8 3426.8v13M802.9 3463.8h13M809.4 3457.3v13M819.6 3474.3h13M826.1 3467.8v13M836.2 3476.9h13M842.7 3470.4v13M852.8 3494.8h13M859.3 3488.3v13M869.4 3506.3h13M875.9 3499.8v13M886.0 3488.9h13M892.5 3482.4v13M902.7 3486.2h13M909.2 3479.7v13M919.3 3485.3h13M925.8 3478.8v13M935.9 3482.1h13M942.4 3475.6v13M952.5 3504.6h13M959.0 3498.1v13M969.1 3491.8h13M975.6 3485.3v13M985.8 3475.6h13M992.3 3469.1v13M1002.4 3476.0h13M1008.9 3469.5v13M1019.0 3474.5h13M1025.5 3468.0v13M1035.6 3456.4h13M1042.1 3449.9v13M1052.2 3478.2h13M1058.7 3471.7v13M1068.9 3478.5h13M1075.4 3472.0v13M1085.5 3483.6h13M1092.0 3477.1v13M1102.1 3479.5h13M1108.6 3473.0v13M1118.7 3499.4h13M1125.2 3492.9v13M1135.3 3508.0h13M1141.8 3501.5v13M1152.0 3376.6h13M1158.5 3370.1v13M1168.6 3291.6h13M1175.1 3285.1v13M1185.2 3258.0h13M1191.7 3251.5v13M1201.8 3253.0h13M1208.3 3246.5v13M1218.5 3254.5h13M1225.0 3248.0v13M1235.1 3238.7h13M1241.6 3232.2v13M1251.7 3278.9h13M1258.2 3272.4v13M1268.3 3297.0h13M1274.8 3290.5v13M1284.9 3325.6h13M1291.4 3319.1v13M1301.6 3359.8h13M1308.1 3353.3v13M1318.2 3361.6h13M1324.7 3355.1v13M1334.8 3399.2h13M1341.3 3392.7v13M1351.4 3404.0h13M1357.9 3397.5v13M1368.0 3418.4h13M1374.5 3411.9v13M1384.7 3423.4h13M1391.2 3416.9v13M1401.3 3422.6h13M1407.8 3416.1v13M1417.9 3429.3h13M1424.4 3422.8v13M1434.5 3430.7h13M1441.0 3424.2v13M1451.1 3437.9h13M1457.6 3431.4v13M1467.8 3434.9h13M1474.3 3428.4v13M1484.4 3435.0h13M1490.9 3428.5v13M1501.0 3439.1h13M1507.5 3432.6v13M1517.6 3441.6h13M1524.1 3435.1v13M1534.3 3435.0h13M1540.8 3428.5v13M1550.9 3445.3h13M1557.4 3438.8v13M1567.5 3447.1h13M1574.0 3440.6v13M1584.1 3444.0h13M1590.6 3437.5v13M1600.7 3437.5h13M1607.2 3431.0v13M1617.4 3435.2h13M1623.9 3428.7v13M1634.0 3504.6h13M1640.5 3498.1v13M1650.6 3415.1h13M1657.1 3408.6v13M1667.2 3381.6h13M1673.7 3375.1v13M1683.8 3332.2h13M1690.3 3325.7v13M1700.5 3324.9h13M1707.0 3318.4v13M1717.1 3345.0h13M1723.6 3338.5v13M1733.7 3313.0h13M1740.2 3306.5v13M1750.3 3329.6h13M1756.8 3323.1v13M1766.9 3354.1h13M1773.4 3347.6v13M1783.6 3325.8h13M1790.1 3319.3v13M1800.2 3354.7h13M1806.7 3348.2v13M1816.8 3398.0h13M1823.3 3391.5v13M1833.4 3406.4h13M1839.9 3399.9v13M1850.1 3409.8h13M1856.6 3403.3v13M1866.7 3426.6h13M1873.2 3420.1v13M1883.3 3438.2h13M1889.8 3431.7v13M1899.9 3432.7h13M1906.4 3426.2v13M1916.5 3440.5h13M1923.0 3434.0v13M1933.2 3436.7h13M1939.7 3430.2v13M1949.8 3436.3h13M1956.3 3429.8v13M1966.4 3440.7h13M1972.9 3434.2v13M1983.0 3433.9h13M1989.5 3427.4v13M1999.6 3438.6h13M2006.1 3432.1v13M2016.3 3453.6h13M2022.8 3447.1v13M2032.9 3439.1h13M2039.4 3432.6v13M2049.5 3438.6h13M2056.0 3432.1v13M2066.1 3433.1h13M2072.6 3426.6v13M2082.7 3444.4h13M2089.2 3437.9v13M2099.4 3439.3h13M2105.9 3432.8v13M2116.0 3443.1h13M2122.5 3436.6v13M2132.6 3444.3h13M2139.1 3437.8v13" stroke="#434e96" stroke-width="4.6" fill="none"/>
<path d="M322.8 3523.0 C335.3 3522.2 374.4 3519.7 397.8 3518.1 C421.2 3516.5 441.2 3514.5 463.0 3513.2 C484.8 3511.8 506.5 3510.5 528.3 3510.0 C550.0 3509.5 574.4 3510.8 593.5 3510.0 C612.6 3509.2 628.9 3507.3 643.0 3505.2 C657.1 3503.1 665.9 3499.8 678.3 3497.4 C690.7 3495.0 706.0 3492.1 717.4 3490.6 C728.8 3489.1 737.0 3488.4 746.8 3488.6 C756.6 3488.8 766.2 3490.3 776.0 3491.5 C785.8 3492.7 795.7 3494.5 805.5 3495.5 C815.3 3496.5 823.4 3497.7 834.8 3497.4 C846.2 3497.1 865.9 3494.6 874.0 3493.5 C882.1 3492.4 870.4 3491.0 883.4 3490.8 C896.4 3490.7 929.3 3491.4 952.3 3492.6 C975.3 3493.8 995.4 3498.0 1021.2 3497.7 C1047.1 3497.4 1090.2 3495.1 1107.4 3490.8 C1124.6 3486.5 1118.9 3479.7 1124.6 3471.9 C1130.3 3464.2 1135.9 3452.6 1141.8 3444.3 C1147.7 3436.0 1154.7 3429.5 1160.0 3422.0 C1165.3 3414.5 1169.1 3405.2 1173.7 3399.4 C1178.3 3393.7 1182.9 3390.2 1187.4 3387.5 C1192.0 3384.8 1196.4 3383.9 1201.0 3383.0 C1205.6 3382.1 1210.2 3381.9 1214.8 3382.0 C1219.4 3382.1 1223.9 3382.9 1228.5 3383.8 C1233.1 3384.7 1237.6 3385.7 1242.2 3387.5 C1246.8 3389.3 1251.3 3392.1 1255.9 3394.8 C1260.5 3397.6 1265.0 3401.6 1269.6 3404.0 C1274.2 3406.4 1278.7 3408.1 1283.3 3409.4 C1287.9 3410.7 1293.0 3410.4 1297.0 3412.0 C1301.0 3413.6 1301.1 3416.7 1307.4 3418.7 C1313.7 3420.7 1325.7 3422.4 1334.8 3424.2 C1343.9 3426.0 1355.3 3427.3 1362.2 3429.7 C1369.1 3432.1 1370.6 3436.5 1375.9 3438.8 C1381.2 3441.1 1387.4 3442.2 1394.2 3443.4 C1401.0 3444.6 1402.5 3445.2 1417.0 3446.0 C1431.5 3446.8 1456.7 3448.1 1481.0 3448.5 C1505.3 3448.9 1543.8 3449.1 1563.0 3448.5 C1582.2 3447.9 1587.8 3446.4 1596.0 3445.0 C1604.2 3443.6 1605.2 3441.8 1612.0 3440.0 C1618.8 3438.2 1626.3 3436.0 1636.5 3434.5 C1646.7 3433.0 1662.3 3433.2 1673.0 3430.8 C1683.7 3428.4 1692.9 3422.9 1700.5 3419.9 C1708.1 3416.9 1711.7 3414.3 1718.7 3412.6 C1725.7 3410.9 1735.5 3409.7 1742.5 3409.8 C1749.5 3410.0 1754.0 3411.7 1760.7 3413.5 C1767.4 3415.3 1775.3 3417.9 1782.6 3420.8 C1789.9 3423.7 1795.5 3427.3 1804.6 3430.8 C1813.7 3434.3 1824.8 3437.8 1837.4 3441.8 C1850.0 3445.8 1864.2 3449.5 1880.0 3454.6 C1895.8 3459.7 1913.9 3468.8 1932.2 3472.2 C1950.5 3475.6 1970.5 3474.0 1989.6 3475.0 C2008.7 3476.0 2027.9 3476.6 2047.0 3478.0 C2066.1 3479.4 2089.1 3482.3 2104.4 3483.7 C2119.7 3485.1 2133.2 3486.1 2138.9 3486.6" stroke="#ffa23e" stroke-width="5.5" fill="none" stroke-linejoin="round" stroke-linecap="round"/>
<path d="M320.9 3516.0h13M327.4 3509.5v13M337.5 3528.7h13M344.0 3522.2v13M354.2 3521.6h13M360.7 3515.1v13M370.8 3522.6h13M377.3 3516.1v13M387.4 3515.8h13M393.9 3509.3v13M404.0 3518.6h13M410.5 3512.1v13M420.6 3513.5h13M427.1 3507.0v13M437.3 3521.9h13M443.8 3515.4v13M453.9 3511.7h13M460.4 3505.2v13M470.5 3512.6h13M477.0 3506.1v13M487.1 3513.3h13M493.6 3506.8v13M503.8 3508.5h13M510.3 3502.0v13M520.4 3510.4h13M526.9 3503.9v13M537.0 3508.6h13M543.5 3502.1v13M553.6 3507.1h13M560.1 3500.6v13M570.2 3505.5h13M576.7 3499.0v13M586.9 3501.2h13M593.4 3494.7v13M603.5 3501.4h13M610.0 3494.9v13M620.1 3506.6h13M626.6 3500.1v13M636.7 3501.6h13M643.2 3495.1v13M653.3 3500.1h13M659.8 3493.6v13M670.0 3498.2h13M676.5 3491.7v13M686.6 3492.0h13M693.1 3485.5v13M703.2 3489.0h13M709.7 3482.5v13M719.8 3494.6h13M726.3 3488.1v13M736.4 3492.2h13M742.9 3485.7v13M753.1 3490.0h13M759.6 3483.5v13M769.7 3489.8h13M776.2 3483.3v13M786.3 3492.4h13M792.8 3485.9v13M802.9 3489.9h13M809.4 3483.4v13M819.6 3501.9h13M826.1 3495.4v13M836.2 3509.8h13M842.7 3503.3v13M852.8 3515.0h13M859.3 3508.5v13M869.4 3493.4h13M875.9 3486.9v13M886.0 3493.8h13M892.5 3487.3v13M902.7 3483.3h13M909.2 3476.8v13M919.3 3481.4h13M925.8 3474.9v13M935.9 3492.4h13M942.4 3485.9v13M952.5 3486.4h13M959.0 3479.9v13M969.1 3489.5h13M975.6 3483.0v13M985.8 3491.5h13M992.3 3485.0v13M1002.4 3498.2h13M1008.9 3491.7v13M1019.0 3502.0h13M1025.5 3495.5v13M1035.6 3493.7h13M1042.1 3487.2v13M1052.2 3486.5h13M1058.7 3480.0v13M1068.9 3494.6h13M1075.4 3488.1v13M1085.5 3492.1h13M1092.0 3485.6v13M1102.1 3482.5h13M1108.6 3476.0v13M1118.7 3464.7h13M1125.2 3458.2v13M1135.3 3451.7h13M1141.8 3445.2v13M1152.0 3421.5h13M1158.5 3415.0v13M1168.6 3397.3h13M1175.1 3390.8v13M1185.2 3381.6h13M1191.7 3375.1v13M1201.8 3366.8h13M1208.3 3360.3v13M1218.5 3384.7h13M1225.0 3378.2v13M1235.1 3388.9h13M1241.6 3382.4v13M1251.7 3392.2h13M1258.2 3385.7v13M1268.3 3402.6h13M1274.8 3396.1v13M1284.9 3415.0h13M1291.4 3408.5v13M1301.6 3447.8h13M1308.1 3441.3v13M1318.2 3417.5h13M1324.7 3411.0v13M1334.8 3430.1h13M1341.3 3423.6v13M1351.4 3428.4h13M1357.9 3421.9v13M1368.0 3436.8h13M1374.5 3430.3v13M1384.7 3441.4h13M1391.2 3434.9v13M1401.3 3444.5h13M1407.8 3438.0v13M1417.9 3448.9h13M1424.4 3442.4v13M1434.5 3448.1h13M1441.0 3441.6v13M1451.1 3453.0h13M1457.6 3446.5v13M1467.8 3443.7h13M1474.3 3437.2v13M1484.4 3446.0h13M1490.9 3439.5v13M1501.0 3446.2h13M1507.5 3439.7v13M1517.6 3448.6h13M1524.1 3442.1v13M1534.3 3446.8h13M1540.8 3440.3v13M1550.9 3446.8h13M1557.4 3440.3v13M1567.5 3447.3h13M1574.0 3440.8v13M1584.1 3455.1h13M1590.6 3448.6v13M1600.7 3444.7h13M1607.2 3438.2v13M1617.4 3436.5h13M1623.9 3430.0v13M1634.0 3435.8h13M1640.5 3429.3v13M1650.6 3458.2h13M1657.1 3451.7v13M1667.2 3434.2h13M1673.7 3427.7v13M1683.8 3423.2h13M1690.3 3416.7v13M1700.5 3416.0h13M1707.0 3409.5v13M1717.1 3374.2h13M1723.6 3367.7v13M1733.7 3426.3h13M1740.2 3419.8v13M1750.3 3409.1h13M1756.8 3402.6v13M1766.9 3420.2h13M1773.4 3413.7v13M1783.6 3440.0h13M1790.1 3433.5v13M1800.2 3425.3h13M1806.7 3418.8v13M1816.8 3438.7h13M1823.3 3432.2v13M1833.4 3439.7h13M1839.9 3433.2v13M1850.1 3444.1h13M1856.6 3437.6v13M1866.7 3449.0h13M1873.2 3442.5v13M1883.3 3458.2h13M1889.8 3451.7v13M1899.9 3465.5h13M1906.4 3459.0v13M1916.5 3469.4h13M1923.0 3462.9v13M1933.2 3475.2h13M1939.7 3468.7v13M1949.8 3471.0h13M1956.3 3464.5v13M1966.4 3481.0h13M1972.9 3474.5v13M1983.0 3477.6h13M1989.5 3471.1v13M1999.6 3479.9h13M2006.1 3473.4v13M2016.3 3484.2h13M2022.8 3477.7v13M2032.9 3477.5h13M2039.4 3471.0v13M2049.5 3478.5h13M2056.0 3472.0v13M2066.1 3480.7h13M2072.6 3474.2v13M2082.7 3476.2h13M2089.2 3469.7v13M2099.4 3482.2h13M2105.9 3475.7v13M2116.0 3480.1h13M2122.5 3473.6v13M2132.6 3482.3h13M2139.1 3475.8v13" stroke="#ffa23e" stroke-width="4.6" fill="none"/>
</g>
<line x1="255.5" y1="2177.0" x2="255.5" y2="3759.5" stroke="#1a110e" stroke-width="5.5"/>
<line x1="253" y1="2180.5" x2="2214.5" y2="2180.5" stroke="#1a110e" stroke-width="7"/>
<line x1="2210.2" y1="2177.0" x2="2210.2" y2="3759.5" stroke="#1a110e" stroke-width="10"/>
<line x1="253" y1="3755.5" x2="2214.5" y2="3755.5" stroke="#1a110e" stroke-width="8"/>
<line x1="222" y1="3697.5" x2="255" y2="3697.5" stroke="#3d3330" stroke-width="5.5"/>
<text transform="translate(178.5,3697.5) rotate(-90) scale(1,0.95)" class="r" font-family="Liberation Sans, sans-serif" font-size="77.5" text-anchor="middle" fill="#140d0b">0.0</text>
<line x1="222" y1="3405.9" x2="255" y2="3405.9" stroke="#3d3330" stroke-width="5.5"/>
<text transform="translate(178.5,3405.9) rotate(-90) scale(1,0.95)" class="r" font-family="Liberation Sans, sans-serif" font-size="77.5" text-anchor="middle" fill="#140d0b">0.2</text>
<line x1="222" y1="3114.3" x2="255" y2="3114.3" stroke="#3d3330" stroke-width="5.5"/>
<text transform="translate(178.5,3114.3) rotate(-90) scale(1,0.95)" class="r" font-family="Liberation Sans, sans-serif" font-size="77.5" text-anchor="middle" fill="#140d0b">0.4</text>
<line x1="222" y1="2822.7" x2="255" y2="2822.7" stroke="#3d3330" stroke-width="5.5"/>
<text transform="translate(178.5,2822.7) rotate(-90) scale(1,0.95)" class="r" font-family="Liberation Sans, sans-serif" font-size="77.5" text-anchor="middle" fill="#140d0b">0.6</text>
<line x1="222" y1="2531.1" x2="255" y2="2531.1" stroke="#3d3330" stroke-width="5.5"/>
<text transform="translate(178.5,2531.1) rotate(-90) scale(1,0.95)" class="r" font-family="Liberation Sans, sans-serif" font-size="77.5" text-anchor="middle" fill="#140d0b">0.8</text>
<line x1="222" y1="2239.5" x2="255" y2="2239.5" stroke="#3d3330" stroke-width="5.5"/>
<text transform="translate(178.5,2239.5) rotate(-90) scale(1,0.95)" class="r" font-family="Liberation Sans, sans-serif" font-size="77.5" text-anchor="middle" fill="#140d0b">1.0</text>
<line x1="2212" y1="3697.5" x2="2245.5" y2="3697.5" stroke="#3d3330" stroke-width="5.5"/>
<text transform="translate(2321.5,3697.5) rotate(-90) scale(1,0.95)" class="r" font-family="Liberation Sans, sans-serif" font-size="77.5" text-anchor="middle" fill="#140d0b">0.000</text>
<line x1="2212" y1="3333.0" x2="2245.5" y2="3333.0" stroke="#3d3330" stroke-width="5.5"/>
<text transform="translate(2321.5,3333.0) rotate(-90) scale(1,0.95)" class="r" font-family="Liberation Sans, sans-serif" font-size="77.5" text-anchor="middle" fill="#140d0b">0.005</text>
<line x1="2212" y1="2968.5" x2="2245.5" y2="2968.5" stroke="#3d3330" stroke-width="5.5"/>
<text transform="translate(2321.5,2968.5) rotate(-90) scale(1,0.95)" class="r" font-family="Liberation Sans, sans-serif" font-size="77.5" text-anchor="middle" fill="#140d0b">0.010</text>
<line x1="2212" y1="2604.0" x2="2245.5" y2="2604.0" stroke="#3d3330" stroke-width="5.5"/>
<text transform="translate(2321.5,2604.0) rotate(-90) scale(1,0.95)" class="r" font-family="Liberation Sans, sans-serif" font-size="77.5" text-anchor="middle" fill="#140d0b">0.015</text>
<line x1="2212" y1="2239.5" x2="2245.5" y2="2239.5" stroke="#3d3330" stroke-width="5.5"/>
<text transform="translate(2321.5,2239.5) rotate(-90) scale(1,0.95)" class="r" font-family="Liberation Sans, sans-serif" font-size="77.5" text-anchor="middle" fill="#140d0b">0.020</text>
<text transform="translate(88.8,2966.5) rotate(-90)" class="r" font-family="Liberation Sans, sans-serif" font-size="77.4" text-anchor="middle" fill="#140d0b">Mean Mehtylation Level of CG</text>
<text transform="translate(2447,2968.5) rotate(-90)" class="r" font-family="Liberation Sans, sans-serif" font-size="77.4" text-anchor="middle" fill="#140d0b">Mean Mehtylation Level of CHG/CHH</text>
<text x="478.5" y="3866.5" class="r" font-family="Liberation Sans, sans-serif" font-size="77.5" text-anchor="middle" fill="#140d0b">a</text>
<text x="725.0" y="3866.5" class="r" font-family="Liberation Sans, sans-serif" font-size="77.5" text-anchor="middle" fill="#140d0b">b</text>
<text x="987.0" y="3866.5" class="r" font-family="Liberation Sans, sans-serif" font-size="77.5" text-anchor="middle" fill="#140d0b">c</text>
<text x="1224.5" y="3866.5" class="r" font-family="Liberation Sans, sans-serif" font-size="77.5" text-anchor="middle" fill="#140d0b">d</text>
<text x="1474.7" y="3866.5" class="r" font-family="Liberation Sans, sans-serif" font-size="77.5" text-anchor="middle" fill="#140d0b">e</text>
<text x="1723.4" y="3866.5" class="r" font-family="Liberation Sans, sans-serif" font-size="77.5" text-anchor="middle" fill="#140d0b">f</text>
<text x="1970.5" y="3866.5" class="r" font-family="Liberation Sans, sans-serif" font-size="77.5" text-anchor="middle" fill="#140d0b">g</text>
<line x1="1877" y1="2254.5" x2="1998" y2="2254.5" stroke="#ff2b27" stroke-width="7"/>
<text x="2046" y="2275.0" class="r" font-family="Liberation Sans, sans-serif" font-size="63" fill="#140d0b">CG</text>
<line x1="1877" y1="2330.5" x2="1998" y2="2330.5" stroke="#434e96" stroke-width="7"/>
<text x="2046" y="2353.0" class="r" font-family="Liberation Sans, sans-serif" font-size="63" fill="#140d0b">CHG</text>
<line x1="1877" y1="2404.5" x2="1998" y2="2404.5" stroke="#ffa23e" stroke-width="7"/>
<text x="2046" y="2426.3" class="r" font-family="Liberation Sans, sans-serif" font-size="63" fill="#140d0b">CHH</text>
<line x1="1877.5" y1="2477.8" x2="1998" y2="2477.8" stroke="#3cb43c" stroke-width="8" stroke-dasharray="27 18"/>
<text x="2046" y="2498.1" class="r" font-family="Liberation Sans, sans-serif" font-size="63" fill="#140d0b">TSS</text>
<text x="1747.5" y="3255.8" class="r" font-family="Liberation Sans, sans-serif" font-size="61.5" fill="#140d0b">a</text>
<text x="1812.0" y="3255.8" class="r" font-family="Liberation Sans, sans-serif" font-size="61.5" fill="#140d0b">upstream</text>
<text x="1747.5" y="3329.3" class="r" font-family="Liberation Sans, sans-serif" font-size="61.5" fill="#140d0b">b</text>
<text x="1812.0" y="3329.3" class="r" font-family="Liberation Sans, sans-serif" font-size="61.5" fill="#140d0b">first exon</text>
<text x="1747.5" y="3403.3" class="r" font-family="Liberation Sans, sans-serif" font-size="61.5" fill="#140d0b">c</text>
<text x="1812.0" y="3403.3" class="r" font-family="Liberation Sans, sans-serif" font-size="61.5" fill="#140d0b">first intron</text>
<text x="1747.5" y="3478.1" class="r" font-family="Liberation Sans, sans-serif" font-size="61.5" fill="#140d0b">d</text>
<text x="1812.0" y="3478.1" class="r" font-family="Liberation Sans, sans-serif" font-size="61.5" fill="#140d0b">internal exon</text>
<text x="1747.5" y="3552.0" class="r" font-family="Liberation Sans, sans-serif" font-size="61.5" fill="#140d0b">e</text>
<text x="1812.0" y="3552.0" class="r" font-family="Liberation Sans, sans-serif" font-size="61.5" fill="#140d0b">internal intron</text>
<text x="1747.5" y="3625.8" class="r" font-family="Liberation Sans, sans-serif" font-size="61.5" fill="#140d0b">f</text>
<text x="1812.0" y="3625.8" class="r" font-family="Liberation Sans, sans-serif" font-size="61.5" fill="#140d0b">last exon</text>
<text x="1747.5" y="3701.5" class="r" font-family="Liberation Sans, sans-serif" font-size="61.5" fill="#140d0b">g</text>
<text x="1797.5" y="3701.5" class="r" font-family="Liberation Sans, sans-serif" font-size="61.5" fill="#140d0b">downstream</text>
</svg>
</body></html>
